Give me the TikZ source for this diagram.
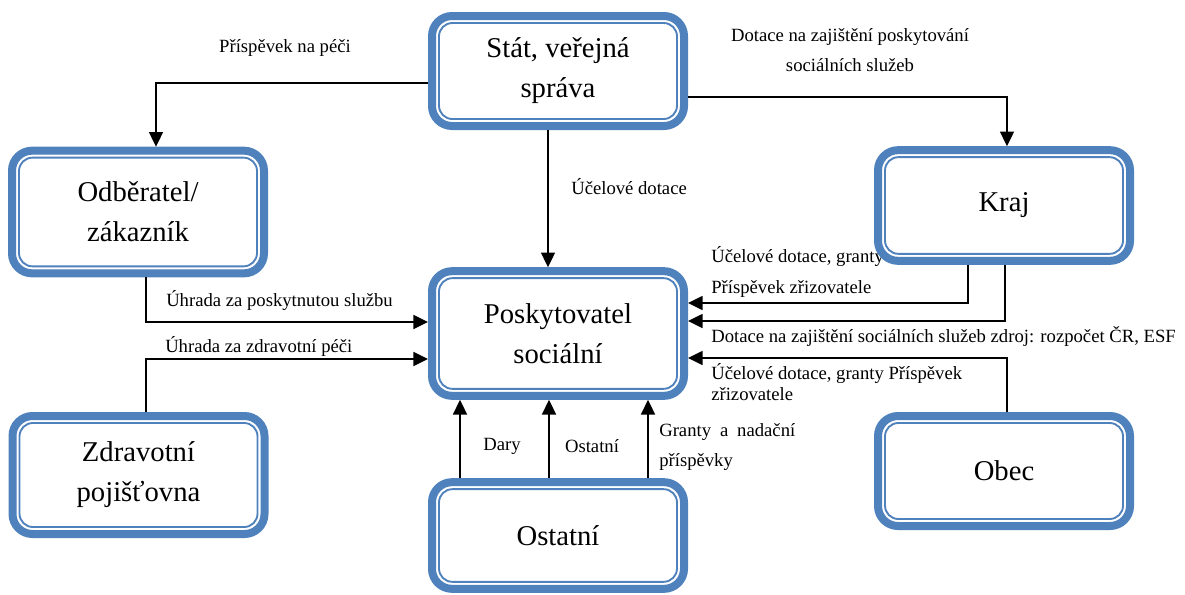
\documentclass[tikz,border=0pt]{standalone}
\usepackage{fontspec}
\setmainfont{Liberation Serif}
\usetikzlibrary{positioning,arrows.meta}
\definecolor{boxblue}{RGB}{79,129,189}

\begin{document}
\begin{tikzpicture}[
  x=0.75pt,y=-0.75pt,
  box/.style={draw=boxblue,line width=6pt,fill=white,rounded corners=15pt,
    minimum width=189pt,align=center,font=\fontsize{21.5}{30}\selectfont,
    path picture={\draw[boxblue,line width=1.4pt,rounded corners=10pt]
      ([shift={(5.25pt,-5.25pt)}]path picture bounding box.north west) rectangle
      ([shift={(-5.25pt,5.25pt)}]path picture bounding box.south east);}},
  lbl/.style={inner sep=0pt,font=\fontsize{14}{16}\selectfont},
  arr/.style={-{Triangle[length=11pt,width=10.5pt]},line width=1.2pt}]
\useasboundingbox (0,0) rectangle (1185,594);
% labels
\node[lbl] (lPece) at (285,48) {Příspěvek na péči};
\node[lbl,align=center,font=\fontsize{14}{22.5}\selectfont] (lDotace) at (850,50)
  {Dotace na zajištění poskytování\\sociálních služeb};
\node[lbl,anchor=west] (lUcel) at (571,187) {Účelové dotace};
\node[lbl,anchor=west] (lUhrada) at (166,300) {Úhrada za poskytnutou službu};
\node[lbl,anchor=west] (lZdrav) at (165,346) {Úhrada za zdravotní péči};
\node[lbl,anchor=west] (lGranty) at (711,256) {Účelové dotace, granty};
\node[lbl,anchor=west] (lZriz) at (711,289) {Příspěvek zřizovatele};
\node[lbl,anchor=west] (lZdroj) at (711,336)
  {Dotace na zajištění sociálních služeb zdroj: rozpočet ČR, ESF};
\node[lbl,anchor=west,align=left] (lObec) at (711,382)
  {Účelové dotace, granty Příspěvek\\zřizovatele};
\node[lbl] (lDary) at (502,446) {Dary};
\node[lbl] (lOst) at (592,446) {Ostatní};
\node[lbl,anchor=west,align=left,font=\fontsize{14}{23}\selectfont] (lNad) at (659,447)
  {\makebox[102pt][s]{Granty a nadační}\\příspěvky};
% boxes
\node[box,minimum height=82.5pt] (stat) at (558,71) {Stát, veřejná\\správa};
\node[box,minimum height=92pt] (odb) at (138,212) {Odběratel/\\zákazník};
\node[box,minimum height=83pt] (kraj) at (1004,205.5) {Kraj};
\node[box,minimum height=93.5pt] (posk) at (558,333.5) {Poskytovatel\\sociální};
\node[box,minimum height=88.5pt] (zdrav) at (138.5,475) {Zdravotní\\pojišťovna};
\node[box,minimum height=82.5pt] (obec) at (1004,471) {Obec};
\node[box,minimum height=80pt] (ost) at (558,535.5) {Ostatní};
% connectors
\draw[arr] (stat.west |- 0,83) -| (odb.north -| 156,0);
\draw[arr] (stat.east |- 0,97) -| (kraj.north -| 1007,0);
\draw[arr] (stat.south -| 548,0) -- (posk.north -| 548,0);
\draw[arr] (odb.south -| 146,0) |- (posk.west |- 0,322);
\draw[arr] (zdrav.north -| 146,0) |- (posk.west |- 0,359);
\draw[arr] (kraj.south -| 968,0) |- (posk.east |- 0,303);
\draw[arr] (kraj.south -| 1005,0) |- (posk.east |- 0,321);
\draw[arr] (obec.north -| 1007,0) |- (posk.east |- 0,358);
\foreach \x in {460,549,648}
  \draw[arr] (ost.north -| \x,0) -- (posk.south -| \x,0);
\end{tikzpicture}
\end{document}
